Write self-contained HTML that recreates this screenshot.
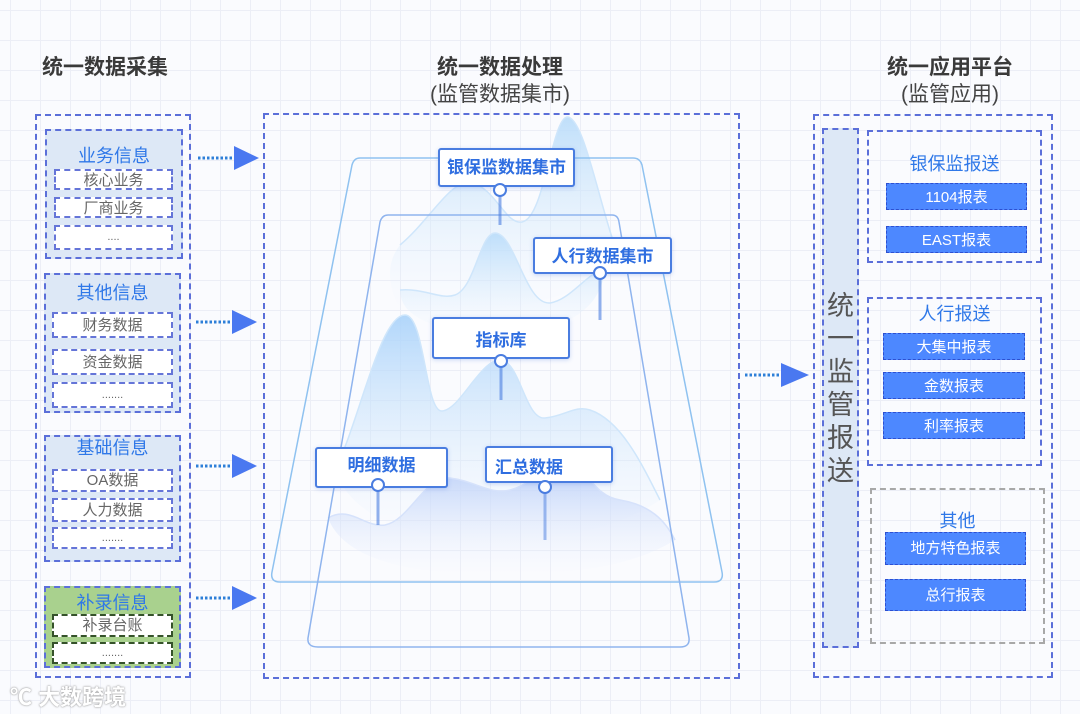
<!DOCTYPE html>
<html><head><meta charset="utf-8"><style>
*{margin:0;padding:0;box-sizing:border-box}
body{width:1080px;height:714px;overflow:hidden;position:relative;font-family:"Liberation Sans","Noto Sans CJK SC",sans-serif;
background-color:#fafbfe;background-image:linear-gradient(#eceef6 1px,transparent 1px),linear-gradient(90deg,#eceef6 1px,transparent 1px);background-size:30px 30px;background-position:10px 10px}
.a{position:absolute}
.d{position:absolute;border:2px dashed #5b6fd9}
.t{position:absolute;text-align:center;color:#2f78e8;font-size:18px}
.i{position:absolute;border:2px dashed #6575d8;background:#fff;color:#666;font-size:15px;text-align:center}
.b{position:absolute;background:#4d88ff;border:1.5px dashed #2d4fd0;color:#fff;font-size:15px;text-align:center}
.h{position:absolute;font-weight:bold;font-size:21px;color:#3a3a3a;text-align:center}
.s{position:absolute;font-size:21px;color:#444;text-align:center}
.lab{position:absolute;background:#fff;border:2px solid #4a7de0;border-radius:3px;color:#2f6ee0;font-weight:bold;font-size:17px;text-align:center;box-shadow:0 1px 4px rgba(60,110,220,.25)}
</style></head><body>
<div class="h" style="left:20px;top:51px;width:170px">统一数据采集</div>
<div class="h" style="left:400px;top:51px;width:200px">统一数据处理</div>
<div class="s" style="left:400px;top:78px;width:200px">(监管数据集市)</div>
<div class="h" style="left:850px;top:51px;width:200px">统一应用平台</div>
<div class="s" style="left:850px;top:78px;width:200px">(监管应用)</div>

<!-- left -->
<div class="d" style="left:35px;top:114px;width:156px;height:564px"></div>
<div class="d" style="left:45px;top:129px;width:138px;height:130px;background:#dde8f6"></div>
<div class="t" style="left:45px;top:142px;width:138px">业务信息</div>
<div class="i" style="left:54px;top:169px;width:119px;height:21px;line-height:19px">核心业务</div>
<div class="i" style="left:54px;top:197px;width:119px;height:21px;line-height:19px">厂商业务</div>
<div class="i" style="left:54px;top:225px;width:119px;height:25px;line-height:21px;font-size:11px">....</div>

<div class="d" style="left:44px;top:273px;width:137px;height:140px;background:#dde8f6"></div>
<div class="t" style="left:44px;top:279px;width:137px">其他信息</div>
<div class="i" style="left:52px;top:312px;width:121px;height:26px;line-height:23px">财务数据</div>
<div class="i" style="left:52px;top:349px;width:121px;height:26px;line-height:23px">资金数据</div>
<div class="i" style="left:52px;top:382px;width:121px;height:26px;line-height:22px;font-size:11px">.......</div>

<div class="d" style="left:44px;top:435px;width:137px;height:127px;background:#dde8f6"></div>
<div class="t" style="left:44px;top:434px;width:137px">基础信息</div>
<div class="i" style="left:52px;top:469px;width:121px;height:23px;line-height:20px">OA数据</div>
<div class="i" style="left:52px;top:498px;width:121px;height:24px;line-height:21px">人力数据</div>
<div class="i" style="left:52px;top:527px;width:121px;height:22px;line-height:18px;font-size:11px">.......</div>

<div class="d" style="left:44px;top:586px;width:137px;height:82px;background:#a9d18e"></div>
<div class="t" style="left:44px;top:589px;width:137px">补录信息</div>
<div class="i" style="left:52px;top:614px;width:121px;height:23px;line-height:20px;border-color:#35522a">补录台账</div>
<div class="i" style="left:52px;top:642px;width:121px;height:22px;line-height:18px;font-size:11px;border-color:#35522a">.......</div>

<!-- arrows -->
<svg class="a" style="left:0;top:0" width="1080" height="714">
<g stroke="#2d7fd8" stroke-width="3" stroke-dasharray="2.5 2">
<line x1="198" y1="158" x2="234" y2="158"/><line x1="196" y1="322" x2="232" y2="322"/>
<line x1="196" y1="466" x2="232" y2="466"/><line x1="196" y1="598" x2="232" y2="598"/>
<line x1="745" y1="375" x2="781" y2="375"/></g>
<g fill="#4a78f0">
<polygon points="234,146 259,158 234,170"/><polygon points="232,310 257,322 232,334"/>
<polygon points="232,454 257,466 232,478"/><polygon points="232,586 257,598 232,610"/>
<polygon points="781,363 809,375 781,387"/></g>
</svg>

<!-- middle -->
<div class="d" style="left:263px;top:113px;width:477px;height:566px"></div>
<svg class="a" style="left:0;top:0" width="1080" height="714">
<defs>
<linearGradient id="g1" x1="0" y1="0" x2="0" y2="1"><stop offset="0" stop-color="#b9dcfa" stop-opacity=".9"/><stop offset="1" stop-color="#e6f2fd" stop-opacity="0"/></linearGradient>
<linearGradient id="g2" x1="0" y1="0" x2="0" y2="1"><stop offset="0" stop-color="#a9d2fa" stop-opacity=".9"/><stop offset="1" stop-color="#e6f2fd" stop-opacity="0"/></linearGradient>
<linearGradient id="g4" x1="0" y1="0" x2="0" y2="1"><stop offset="0" stop-color="#b8cdf8"/><stop offset="1" stop-color="#e8effd" stop-opacity="0"/></linearGradient>
</defs>
<path d="M400,245 C430,220 450,180 470,183 C495,186 505,225 522,222 C545,218 552,115 568,117 C585,120 600,210 620,260 Q560,320 400,310 Q380,270 400,245Z" fill="url(#g1)"/>
<path d="M400,245 C430,220 450,180 470,183 C495,186 505,225 522,222 C545,218 552,115 568,117 C585,120 600,210 620,260" fill="none" stroke="#cfe6fb" stroke-width="1.5"/>
<path d="M400,290 C425,288 440,300 455,295 C475,288 480,233 495,233 C515,233 525,305 550,303 C570,300 585,275 605,268 Q600,330 500,335 Q400,330 400,290Z" fill="url(#g1)"/>
<path d="M400,290 C425,288 440,300 455,295 C475,288 480,233 495,233 C515,233 525,305 550,303 C570,300 585,275 605,268" fill="none" stroke="#cfe6fb" stroke-width="1.5"/>
<path d="M335,470 C360,420 380,315 405,315 C425,315 425,412 442,411 C460,410 480,360 500,360 C520,360 525,420 545,418 C565,416 575,405 590,410 C620,420 640,460 660,500 Q600,540 500,540 Q360,540 335,470Z" fill="url(#g2)"/>
<path d="M335,470 C360,420 380,315 405,315 C425,315 425,412 442,411 C460,410 480,360 500,360 C520,360 525,420 545,418 C565,416 575,405 590,410 C620,420 640,460 660,500" fill="none" stroke="#cfe6fb" stroke-width="1.5"/>
<path d="M328,518 C350,505 365,528 385,525 C410,520 425,475 450,478 C475,481 490,495 510,490 C540,482 545,455 560,458 C590,465 590,495 620,500 C650,505 665,520 675,540 Q620,575 500,575 Q350,575 328,518Z" fill="url(#g4)"/>
<path d="M328,518 C350,505 365,528 385,525 C410,520 425,475 450,478 C475,481 490,495 510,490 C540,482 545,455 560,458 C590,465 590,495 620,500 C650,505 665,520 675,540" fill="none" stroke="#d6e2fb" stroke-width="1.5"/>
<path d="M360,158 L633,158 Q640,158 642,165 L722,572 Q724,582 714,582 L280,582 Q270,582 272,572 L352,165 Q354,158 360,158Z" fill="none" stroke="#8fc2f0" stroke-width="1.5"/>
<path d="M388,215 L612,215 Q618,215 619,222 L689,638 Q690,647 680,647 L318,647 Q307,647 308,638 L380,222 Q382,215 388,215Z" fill="none" stroke="#8fb4ee" stroke-width="1.5"/>
<g stroke="#4a7de0" stroke-width="3">
<line x1="500" y1="195" x2="500" y2="225" stroke-opacity=".6"/>
<line x1="600" y1="278" x2="600" y2="320" stroke-opacity=".6"/>
<line x1="501" y1="365" x2="501" y2="400" stroke-opacity=".6"/>
<line x1="378" y1="490" x2="378" y2="525" stroke-opacity=".6"/>
<line x1="545" y1="492" x2="545" y2="540" stroke-opacity=".5"/></g>
</svg>
<div class="lab" style="left:438px;top:148px;width:137px;height:39px;line-height:35px">银保监数据集市</div>
<div class="lab" style="left:533px;top:237px;width:139px;height:37px;line-height:35px">人行数据集市</div>
<div class="lab" style="left:432px;top:317px;width:138px;height:42px;line-height:44px">指标库</div>
<div class="lab" style="left:315px;top:447px;width:133px;height:41px;line-height:34px">明细数据</div>
<div class="lab" style="left:485px;top:446px;width:128px;height:37px;line-height:39px;text-align:left;padding-left:8px">汇总数据</div>
<svg class="a" style="left:0;top:0" width="1080" height="714">
<g fill="#fff" stroke="#4a7de0" stroke-width="2">
<circle cx="500" cy="190" r="6"/><circle cx="600" cy="273" r="6"/><circle cx="501" cy="361" r="6"/><circle cx="378" cy="485" r="6"/><circle cx="545" cy="487" r="6"/></g>
</svg>

<!-- right -->
<div class="d" style="left:813px;top:114px;width:240px;height:564px"></div>
<div class="d" style="left:822px;top:128px;width:37px;height:520px;background:#dde8f6"></div>
<div class="a" style="left:822px;top:290px;width:37px;font-size:27px;line-height:33px;color:#555;text-align:center">统<br>一<br>监<br>管<br>报<br>送</div>
<div class="d" style="left:867px;top:130px;width:175px;height:133px"></div>
<div class="t" style="left:867px;top:150px;width:175px;color:#2f78e8">银保监报送</div>
<div class="b" style="left:886px;top:183px;width:141px;height:27px;line-height:27px">1104报表</div>
<div class="b" style="left:886px;top:226px;width:141px;height:27px;line-height:27px">EAST报表</div>
<div class="d" style="left:867px;top:297px;width:175px;height:169px"></div>
<div class="t" style="left:867px;top:300px;width:175px">人行报送</div>
<div class="b" style="left:883px;top:333px;width:142px;height:27px;line-height:27px">大集中报表</div>
<div class="b" style="left:883px;top:372px;width:142px;height:27px;line-height:27px">金数报表</div>
<div class="b" style="left:883px;top:412px;width:142px;height:27px;line-height:27px">利率报表</div>
<div class="d" style="left:870px;top:488px;width:175px;height:156px;border-color:#a8a8a8"></div>
<div class="t" style="left:870px;top:507px;width:175px">其他</div>
<div class="b" style="left:885px;top:532px;width:141px;height:33px;line-height:32px">地方特色报表</div>
<div class="b" style="left:885px;top:579px;width:141px;height:32px;line-height:31px">总行报表</div>

<div class="a" style="left:10px;top:680px;font-size:22px;color:#fff;font-weight:bold;text-shadow:0 0 2px #999,0 0 1px #aaa">℃ 大数跨境</div>
</body></html>
